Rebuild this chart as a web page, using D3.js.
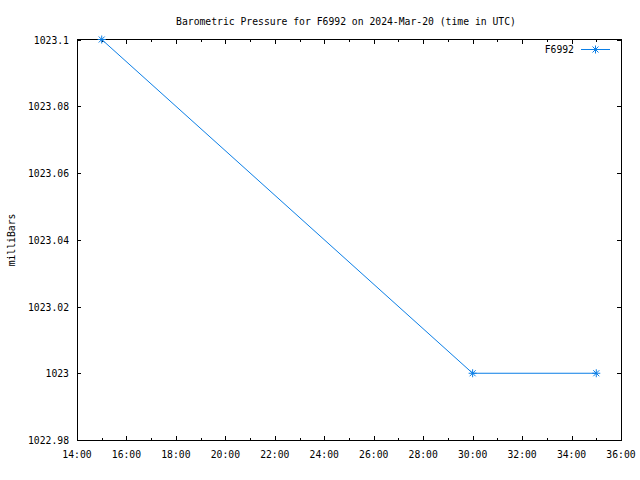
<!DOCTYPE html>
<html><head><meta charset="utf-8">
<script src="https://cdn.jsdelivr.net/npm/d3@7"></script>
<style>body{margin:0;background:#fff}svg{display:block}</style>
</head><body>
<script>
const times = ["15:00", "30:00", "35:00"];
const pressure = [1023.1, 1023.0, 1023.0];
const xTickHours = [14, 16, 18, 20, 22, 24, 26, 28, 30, 32, 34, 36];
const yTicks = [1022.98, 1023, 1023.02, 1023.04, 1023.06, 1023.08, 1023.1];
const yTickLabels = ["1022.98", "1023", "1023.02", "1023.04", "1023.06", "1023.08", "1023.1"];
const seriesName = "F6992";
const title = "Barometric Pressure for F6992 on 2024-Mar-20 (time in UTC)";
const yTitle = "milliBars";

const W = 640, H = 480;
const L = 77, R = 621, T = 39.5, B = 440;
const CW = 5.86;
const color = "#0a7ee6";
const font = "'DejaVu Sans Mono', monospace";

const toH = s => { const [h, m] = s.split(":").map(Number); return h + m / 60; };
const data = times.map((t, i) => ({ x: toH(t), y: pressure[i] }));

const x = d3.scaleLinear().domain([14, 36]).range([L, R]);
const y = d3.scaleLinear().domain([1022.98, 1023.1]).range([B, T]);

const svg = d3.select("body").append("svg").attr("width", W).attr("height", H)
  .style("font-family", font).style("font-size", "11px");

function txt(g, s, xx, yy, anchor) {
  return g.append("text").attr("x", xx).attr("y", yy).attr("text-anchor", anchor)
    .attr("textLength", s.length * CW).attr("lengthAdjust", "spacingAndGlyphs")
    .attr("fill", "#000").text(s);
}

// axes with ticks (inward)
const fmt = h => String(h).padStart(2, "0") + ":00";
const minor = d3.range(15, 36, 2);
const gx = svg.append("g").attr("transform", `translate(0,${B})`)
  .call(d3.axisBottom(x).tickValues(xTickHours).tickSize(-4).tickFormat(""));
const gxm = svg.append("g").attr("transform", `translate(0,${B})`)
  .call(d3.axisBottom(x).tickValues(minor).tickSize(-2).tickFormat(""));
const gxt = svg.append("g").attr("transform", `translate(0,${T})`)
  .call(d3.axisTop(x).tickValues(xTickHours).tickSize(-4).tickFormat(""));
const gxtm = svg.append("g").attr("transform", `translate(0,${T})`)
  .call(d3.axisTop(x).tickValues(minor).tickSize(-2).tickFormat(""));
const gy = svg.append("g").attr("transform", `translate(${L},0)`)
  .call(d3.axisLeft(y).tickValues(yTicks).tickSize(-4).tickFormat(""));
const gyr = svg.append("g").attr("transform", `translate(${R},0)`)
  .call(d3.axisRight(y).tickValues(yTicks).tickSize(-4).tickFormat(""));
[gx, gxm, gxt, gxtm, gy, gyr].forEach(g => {
  g.select(".domain").remove();
  g.selectAll("line").attr("stroke", "#000").attr("stroke-width", 1).attr("shape-rendering", "crispEdges");
});

// frame
svg.append("rect").attr("x", L).attr("y", T).attr("width", R - L).attr("height", B - T)
  .attr("fill", "none").attr("stroke", "#000").attr("stroke-width", 1).attr("shape-rendering", "crispEdges");

// tick labels
const lab = svg.append("g");
xTickHours.forEach(h => txt(lab, fmt(h), x(h), 458, "middle"));
yTicks.forEach((v, i) => txt(lab, yTickLabels[i], 69, y(v) + 4, "end"));

// title & y-title
txt(svg, title, 346, 25, "middle");
const yt = svg.append("g").attr("transform", `translate(15,240) rotate(-90)`);
txt(yt, yTitle, 0, 0, "middle");

// series line
const line = d3.line().x(d => x(d.x)).y(d => y(d.y));
svg.append("path").datum(data).attr("d", line).attr("fill", "none")
  .attr("stroke", color).attr("stroke-width", 1);

function star(g, cx, cy) {
  const s = 4, d = 3;
  g.append("path").attr("d",
    `M${cx - s},${cy}H${cx + s}M${cx},${cy - s}V${cy + s}M${cx - d},${cy - d}L${cx + d},${cy + d}M${cx - d},${cy + d}L${cx + d},${cy - d}`)
    .attr("stroke", color).attr("stroke-width", 1).attr("fill", "none");
}
const pts = svg.append("g");
data.forEach(d => star(pts, x(d.x), y(d.y)));

// legend
txt(svg, seriesName, 574, 53, "end");
svg.append("line").attr("x1", 581).attr("x2", 610).attr("y1", 49.5).attr("y2", 49.5)
  .attr("stroke", color).attr("stroke-width", 1);
star(svg, 595.5, 49.5);
</script>
</body></html>
